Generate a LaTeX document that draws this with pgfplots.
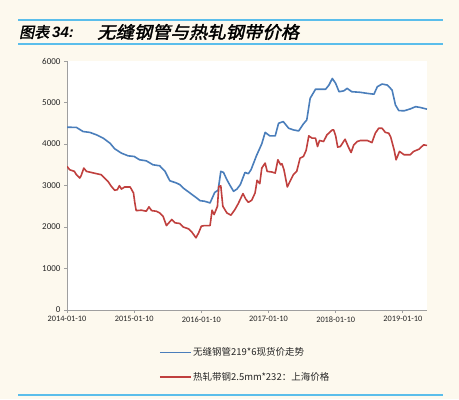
\documentclass[border=0pt]{standalone}
\usepackage{pgfplots}
\pgfplotsset{compat=1.18}
\usepackage{fontspec}
\setmainfont{Carlito}
\newfontfamily\cjk{Noto Sans CJK SC}
\newfontfamily\cjktitle{Noto Sans CJK SC}[FakeSlant=0.2,FakeBold=2]
\newfontfamily\lattitle{Liberation Sans Bold Italic}
\definecolor{cream}{RGB}{253,249,238}
\definecolor{rule}{RGB}{91,190,235}
\definecolor{sblue}{RGB}{74,126,187}
\definecolor{sred}{RGB}{192,64,62}
\begin{document}
\begin{tikzpicture}[x=1bp,y=1bp]
\fill[cream] (0,0) rectangle (459,399);
\draw[rule, line width=1.2bp] (18,379) -- (443,379);
\draw[rule, line width=1.2bp] (18,355) -- (443,355);
\draw[rule, line width=1.2bp] (18,4) -- (443,4);
\node[anchor=west, inner sep=0pt] at (19,367) {\cjktitle\fontsize{15bp}{15bp}\selectfont 图表\hspace{3bp}\lattitle 34:};
\node[anchor=west, inner sep=0pt, xscale=1.08] at (97,367) {\cjktitle\fontsize{17bp}{17bp}\selectfont 无缝钢管与热轧钢带价格};
\begin{axis}[at={(67bp,89bp)}, anchor=south west, scale only axis,
  width=360bp, height=249bp,
  xmin=0, xmax=5.36, ymin=0, ymax=6000,
  axis x line*=bottom, axis y line*=left,
  axis line style={-, draw=gray!75, line width=0.9bp},
  axis background/.style={fill=white},
  xtick={0,1,2,3,4,5},
  xticklabels={2014-01-10,2015-01-10,2016-01-10,2017-01-10,2018-01-10,2019-01-10},
  ytick={0,1000,2000,3000,4000,5000,6000},
  yticklabels={0,1000,2000,3000,4000,5000,6000},
  tick align=outside, major tick length=3bp,
  tick style={gray!75, line width=0.8bp},
  xticklabel style={font=\fontsize{8.3bp}{9bp}\selectfont, text=black!85},
  yticklabel style={font=\fontsize{9bp}{10bp}\selectfont, text=black!85},
  legend style={draw=none, fill=none, at={(0.255,-0.2197)}, anchor=west,
    font=\cjk\fontsize{9.5bp}{10bp}\selectfont, row sep=12bp, inner sep=0pt,
    nodes={inner sep=1.5bp, text=black!85}},
  legend cell align=left,
  legend image code/.code={\draw[#1, line width=1.6bp] (0bp,0bp) -- (31bp,0bp);},
]
\addplot[sblue, line width=1.6bp, line join=round] coordinates {
(0,4405)(0.14,4400)(0.24,4300)(0.34,4280)(0.44,4220)(0.54,4140)(0.64,4020)(0.71,3885)(0.81,3780)(0.91,3715)(1.0,3700)(1.08,3620)(1.18,3595)(1.28,3500)(1.38,3475)(1.46,3340)(1.53,3115)(1.63,3060)(1.68,3020)(1.73,2940)(1.83,2820)(1.93,2700)(1.98,2635)(2.05,2620)(2.13,2580)(2.20,2835)(2.25,2885)(2.29,3340)(2.33,3315)(2.38,3140)(2.43,2995)(2.48,2860)(2.53,2915)(2.58,3020)(2.65,3315)(2.70,3285)(2.74,3380)(2.82,3715)(2.90,4005)(2.95,4280)(3.02,4195)(3.10,4195)(3.15,4500)(3.22,4540)(3.30,4380)(3.37,4340)(3.45,4315)(3.52,4485)(3.57,4580)(3.62,5100)(3.70,5320)(3.77,5320)(3.85,5320)(3.90,5420)(3.95,5580)(4.00,5460)(4.05,5260)(4.12,5280)(4.17,5340)(4.24,5260)(4.37,5245)(4.47,5220)(4.57,5200)(4.62,5380)(4.69,5445)(4.77,5420)(4.84,5300)(4.89,4940)(4.94,4805)(5.02,4800)(5.11,4845)(5.19,4900)(5.26,4880)(5.36,4840)
};
\addlegendentry{无缝钢管219*6现货价走势}
\addplot[sred, line width=1.6bp, line join=round] coordinates {
(0,3460)(0.04,3380)(0.11,3340)(0.14,3260)(0.19,3180)(0.21,3235)(0.25,3420)(0.29,3340)(0.36,3315)(0.44,3285)(0.51,3260)(0.56,3180)(0.61,3100)(0.66,2980)(0.71,2885)(0.75,2900)(0.78,2995)(0.81,2915)(0.86,2965)(0.94,2965)(0.99,2820)(1.01,2580)(1.03,2395)(1.11,2405)(1.18,2380)(1.22,2485)(1.26,2395)(1.33,2380)(1.38,2340)(1.43,2260)(1.48,2035)(1.56,2180)(1.61,2100)(1.68,2085)(1.73,2000)(1.81,1955)(1.86,1875)(1.92,1740)(1.96,1860)(2.00,2020)(2.05,2035)(2.13,2035)(2.16,2405)(2.19,2300)(2.24,2500)(2.26,2980)(2.29,2990)(2.32,2500)(2.38,2340)(2.44,2285)(2.50,2420)(2.55,2565)(2.62,2805)(2.66,2675)(2.70,2595)(2.75,2645)(2.80,2820)(2.83,3125)(2.87,3045)(2.90,3420)(2.95,3540)(2.98,3340)(3.05,3325)(3.10,3300)(3.14,3620)(3.18,3500)(3.20,3525)(3.23,3380)(3.28,2965)(3.32,3100)(3.37,3260)(3.42,3340)(3.47,3660)(3.52,3700)(3.56,3845)(3.60,4195)(3.65,4140)(3.70,4140)(3.73,3940)(3.76,4085)(3.82,4060)(3.87,4220)(3.95,4340)(3.97,4340)(4.00,4195)(4.03,3925)(4.07,3940)(4.14,4115)(4.19,3925)(4.23,3795)(4.27,3980)(4.32,4060)(4.37,4085)(4.47,4085)(4.54,4035)(4.59,4260)(4.64,4380)(4.69,4380)(4.74,4280)(4.79,4260)(4.82,4165)(4.87,3860)(4.90,3620)(4.95,3820)(5.02,3740)(5.11,3740)(5.16,3820)(5.24,3875)(5.31,3980)(5.36,3965)
};
\addlegendentry{热轧带钢2.5mm*232：上海价格}
\end{axis}
\end{tikzpicture}
\end{document}
